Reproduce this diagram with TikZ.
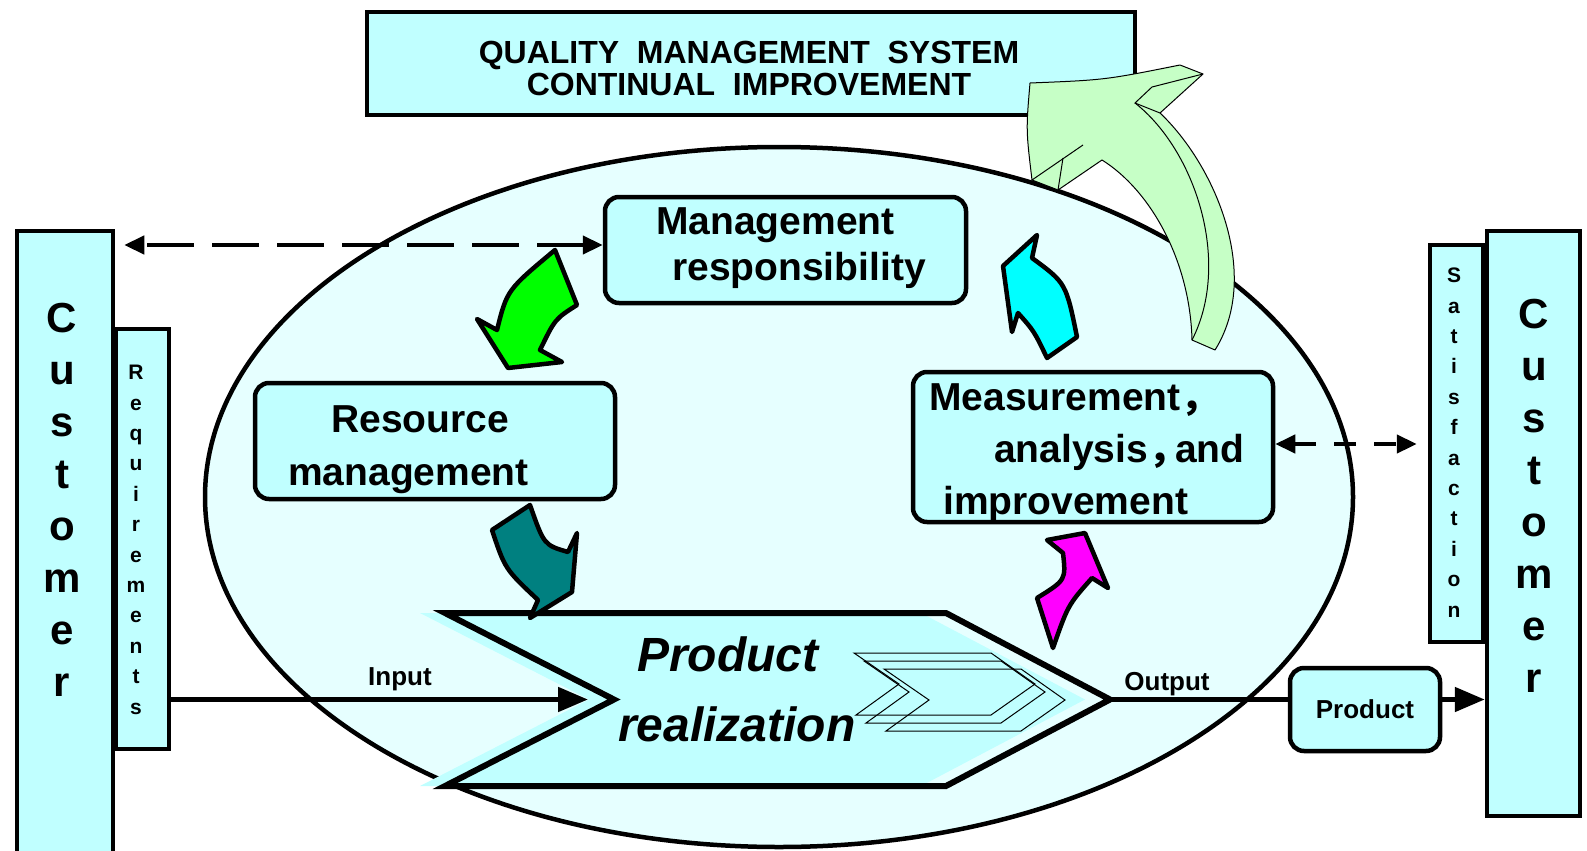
\documentclass[tikz,border=0pt]{standalone}
\usepackage{fontspec}
\setmainfont{Liberation Sans}
\newfontfamily\cjkfont{Noto Sans CJK SC}
\usetikzlibrary{arrows.meta}
\definecolor{boxcyan}{RGB}{192,255,255}
\definecolor{ovalcyan}{RGB}{230,255,255}
\definecolor{palegreen}{RGB}{198,255,198}
\definecolor{arrowgreen}{RGB}{0,255,0}
\definecolor{arrowteal}{RGB}{0,128,128}
\definecolor{arrowcyan}{RGB}{0,255,255}
\definecolor{arrowmagenta}{RGB}{255,0,255}
\newcommand{\cjkcomma}{\makebox[27pt][l]{\cjkfont ，}}
\tikzset{qbox/.style = {draw, fill=boxcyan, line width=4.5pt, inner sep=0}}
\tikzset{rbox/.style = {qbox, rounded corners=14pt}}
\tikzset{boxtext/.style = {font=\fontsize{39}{#1}\selectfont\bfseries, align=left, inner sep=0, anchor=base west}}
\tikzset{vtext/.style = {font=\fontsize{42}{52}\selectfont\bfseries, align=center, inner sep=0, anchor=base}}
\tikzset{vsmall/.style = {font=\fontsize{21}{30.4}\selectfont\bfseries, align=center, inner sep=0, anchor=base}}
\tikzset{label26/.style = {font=\fontsize{26}{26}\selectfont\bfseries, inner sep=0, anchor=base}}
\tikzset{blockarrow/.style = {draw, line width=4.5pt, line join=round}}
\tikzset{flow/.style = {line width=5pt, -{Triangle[length=30pt, width=24pt]}}}
\tikzset{dashflow/.style = {line width=4.5pt, {Triangle[length=20pt, width=18pt]}-{Triangle[length=20pt, width=18pt]}}}

\begin{document}
\begin{tikzpicture}[x=1pt, y=-1pt]
    \useasboundingbox (0,0) rectangle (1587,851);

    \filldraw [fill=ovalcyan, line width=4.5pt] (779,497) ellipse [x radius=574, y radius=350];

    \node [qbox, minimum width=768, minimum height=103] (QMS) at (751,63.5) {};
    \node [font=\fontsize{32}{32}\selectfont\bfseries, align=center, inner sep=0] (QMSt) at (749,68.5) {QUALITY\ \ MANAGEMENT\ \ SYSTEM\\CONTINUAL\ \ IMPROVEMENT};

    % improvement arrow
    \filldraw [fill=palegreen, line width=1pt, line join=round] (1030,83) .. controls (1105,80) .. (1180,65) -- (1203,74) -- (1160,113)
        .. controls (1215,165) and (1262,275) .. (1215,350) -- (1192,340)
        .. controls (1190,260) and (1150,190) .. (1102,160) -- (1058,190) -- (1032,180) .. controls (1026,130) .. (1030,83) -- cycle;
    \draw [line width=1pt] (1203,74) -- (1152,87) -- (1135,103) -- (1160,113);
    \draw [line width=1pt] (1135,103) .. controls (1195,150) and (1232,262) .. (1192,340);
    \draw [line width=1pt] (1032,180) -- (1083,145);
    \draw [line width=1pt] (1063,158) -- (1058,190);

    \node [qbox, minimum width=96, minimum height=625] (CL) at (65,543.5) {};
    \node [qbox, minimum width=53, minimum height=420] (RQ) at (142.5,539) {};
    \node [vtext] (CLt) at (62,696) {C\\u\\s\\t\\o\\m\\e\\r};
    \node [vsmall] (RQt) at (136,714) {R\\e\\q\\u\\i\\r\\e\\m\\e\\n\\t\\s};

    \node [qbox, minimum width=53, minimum height=397] (SB) at (1456.5,443.5) {};
    \node [qbox, minimum width=93, minimum height=585] (CR) at (1533.5,523.5) {};
    \node [vsmall] (SBt) at (1454,617) {S\\a\\t\\i\\s\\f\\a\\c\\t\\i\\o\\n};
    \node [vtext] (CRt) at (1534,692) {C\\u\\s\\t\\o\\m\\e\\r};

    \node [rbox, minimum width=361, minimum height=106] (MR) at (785.5,250) {};
    \node [boxtext=46] (MRt) at (656,280) {Management\\\hspace*{16pt}responsibility};
    \node [rbox, minimum width=360, minimum height=116] (RM) at (435,441) {};
    \node [boxtext=53] (RMt) at (288,485) {\hspace*{43pt}Resource\\management};
    \node [rbox, minimum width=360, minimum height=150] (MA) at (1093,447) {};
    \node [boxtext=52] (MAt) at (929,514) {Measurement\cjkcomma\\\hspace*{65pt}analysis\cjkcomma and\\\hspace*{14pt}improvement};

    % product realization
    \coordinate (notch) at (614,699.5);
    \coordinate (tip) at (1110,699.5);
    \fill [boxcyan] (420,613) -- (921,613) -- (1085,699.5) -- (921,786) -- (420,786) -- (589,699.5) -- cycle;
    \draw [line width=6pt] (445,613) -- (946,613) -- (tip) -- (946,786) -- (445,786) -- (notch) -- cycle;
    \foreach \dx/\dy in {0/0, 10/8, 30/16}
        \draw [line width=1pt, shift={(\dx,\dy)}] (854,653) -- (991,653) -- (1035,684) -- (991,715) -- (856,715) -- (899,684) -- cycle;
    \node [font=\fontsize{48}{70}\selectfont\bfseries\itshape, align=left, inner sep=0, anchor=base west] (PRt) at (618,741) {\hspace*{19pt}Product\\realization};

    \filldraw [blockarrow, fill=arrowgreen] (555,250) -- (577,305) .. controls (555,319) .. (540,350) -- (562,362) -- (508,368) -- (477,319) -- (497,330) .. controls (507,290) .. (555,250) -- cycle;
    \filldraw [blockarrow, fill=arrowteal] (530,505) .. controls (544,545) .. (568,552) -- (577,533) -- (572,592) -- (530,618) -- (538,600) .. controls (505,569) .. (492,530) -- cycle;
    \filldraw [blockarrow, fill=arrowmagenta] (1085,533) -- (1047,540) -- (1063,553) .. controls (1066,580) .. (1037,598) -- (1053,648) .. controls (1068,605) .. (1092,578) -- (1108,588) -- cycle;
    \filldraw [blockarrow, fill=arrowcyan] (1037,235) -- (1003,266) -- (1012,332) -- (1018,313) .. controls (1034,331) .. (1047,358) -- (1077,337) .. controls (1066,283) .. (1032,258) -- cycle;

    \node [rbox, minimum width=150, minimum height=83, font=\fontsize{26}{26}\selectfont\bfseries] (PB) at (1365,709.5) {Product};
    \draw [flow, shorten >=26pt] (RQ.east |- notch) -- (notch);
    \draw [line width=5pt] (tip) -- (tip -| PB.west);
    \draw [flow] (PB.east |- tip) -- (tip -| CR.west);
    \node [label26] (IN) at (400,685) {Input};
    \node [label26] (OUT) at (1167,690) {Output};

    \draw [dashflow, dash pattern=on 47pt off 18pt, shorten >=9pt] ([yshift=5pt]MR.west) -- ([yshift=5pt]MR.west -| CL.east);
    \draw [dashflow, dash pattern=on 22pt off 18pt, shorten >=11pt] ([yshift=3pt]MA.east) -- ([yshift=3pt]MA.east -| SB.west);
\end{tikzpicture}
\end{document}
